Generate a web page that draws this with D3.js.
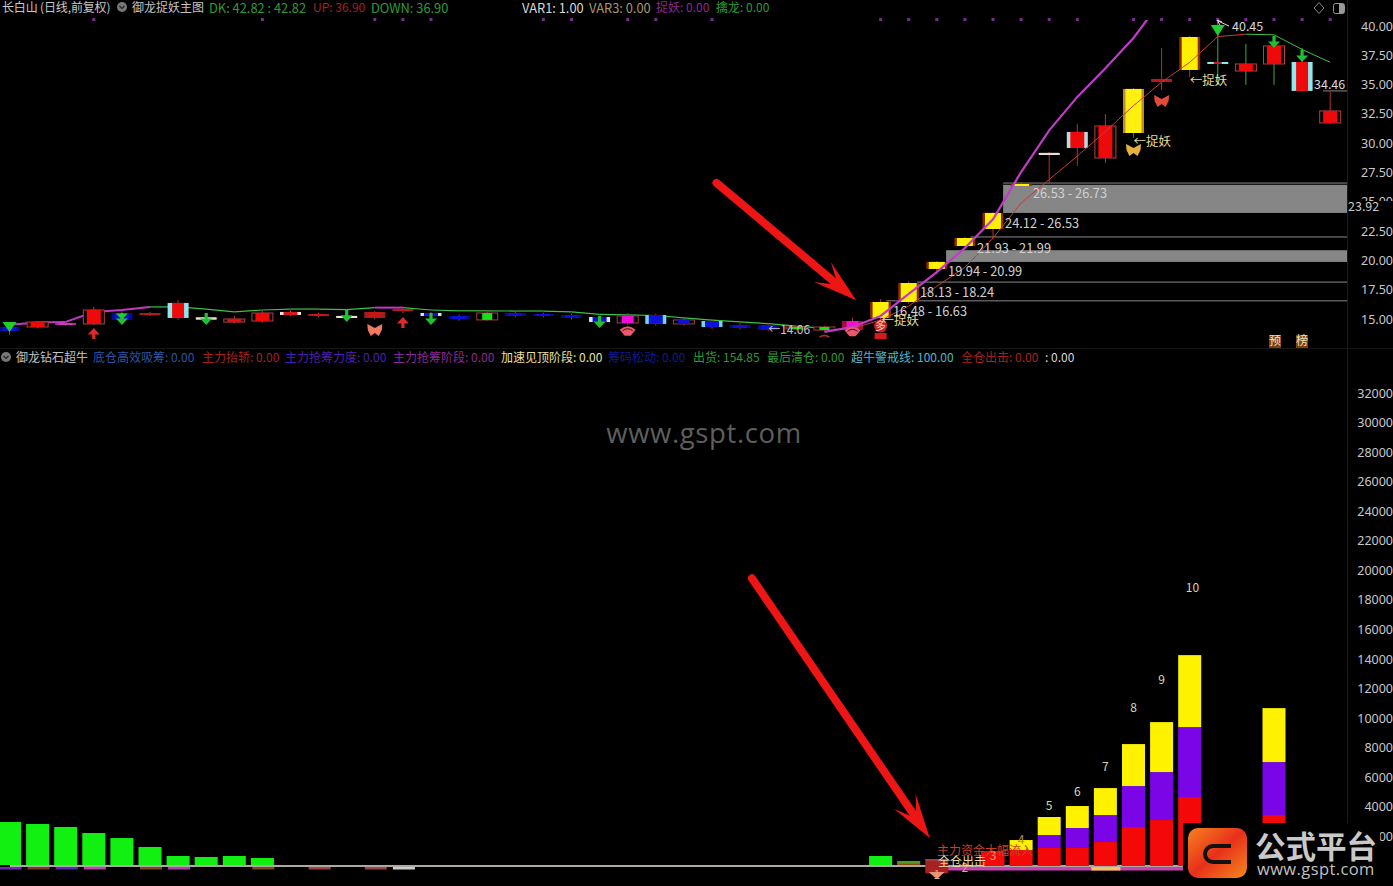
<!DOCTYPE html>
<html><head><meta charset="utf-8">
<script src="https://cdnjs.cloudflare.com/ajax/libs/d3/7.8.5/d3.min.js"></script>
<style>html,body{margin:0;padding:0;background:#000;overflow:hidden}svg{display:block}text{font-family:"Noto Sans CJK SC","Noto Sans",sans-serif}</style>
</head><body><div id="c"></div>
<script>
// ---------- values ----------
const bodyHigh=[14.32,14.74,14.66,15.77,15.51,15.51,16.37,15.13,15.00,15.51,15.60,15.43,15.26,15.60,15.85,15.51,15.26,15.51,15.51,15.43,15.34,15.17,15.26,15.34,14.92,14.83,14.49,14.49,14.32,14.32,14.83,16.45,18.07,19.87,21.91,24.05,26.52,29.17,30.96,31.47,34.63,35.48,39.06,36.93,36.76,38.30,36.93,32.75];
const bodyLow=[13.98,14.32,14.49,14.58,14.92,15.34,15.09,15.05,14.74,14.83,15.34,15.26,15.17,15.09,15.69,15.26,15.00,14.92,15.26,15.26,15.09,14.74,14.66,14.58,14.58,14.32,14.23,14.06,14.15,14.06,14.06,15.09,16.45,19.27,21.23,22.68,26.39,29.08,29.59,28.74,30.87,35.22,36.25,36.76,36.16,36.76,34.46,31.73];
const wickHigh=[14.66,14.80,14.72,16.03,15.70,15.60,16.62,15.30,15.26,15.70,15.75,15.55,15.40,15.70,16.05,15.60,15.40,15.75,15.70,15.55,15.45,15.30,15.50,15.45,15.05,15.00,14.65,14.60,14.40,14.40,15.10,16.70,18.20,19.95,22.00,24.10,26.70,29.25,31.64,32.49,34.70,38.12,39.15,40.34,38.47,38.81,38.12,34.37];
const wickLow=[13.64,14.20,14.40,14.49,14.70,15.25,14.92,14.90,14.60,14.70,15.25,15.15,15.05,14.95,15.50,15.10,14.85,14.85,15.15,15.15,14.95,14.60,14.50,14.45,14.45,14.15,14.10,13.95,14.05,13.95,13.95,14.70,16.30,18.80,20.90,21.80,26.30,26.52,28.06,28.31,30.45,34.54,35.65,34.97,34.97,34.97,34.46,31.64];
const candleKind=['b','r','m','r','b','d','rc','w','r','r','rw','d','w','d','d','bw','b','g','b','b','b','bw','mo','bc','bo','bc','b','b','g','g','mr','y','y','y','y','y','y','w','rl','r','yo','d','y','c','r','r','rc','r'];
const mainLine=[14.5,14.7,14.75,15.6,15.77,16.03,16.03,15.85,15.6,15.77,15.85,15.85,15.8,15.97,15.97,15.77,15.7,15.7,15.68,15.68,15.6,15.4,15.35,15.3,15.1,14.9,14.75,14.6,14.4,14.2];
const mainLineKind=['m','m','m','m','m','g','g','g','g','g','g','g','g','m','g','g','g','g','g','g','g','g','g','g','g','g','g','g','g'];
const trendBars=[29,30,31,32,33,34,35,36,37,38,39,40,41];
const trendPrices=[13.9,14.32,15.26,17.14,19.0,21.06,23.5,27.54,31.1,33.95,36.4,38.98,42.2];
const thinBars=[30,31,32,33,34,35,36,37,38,39,40,41,42,43,44,45,46,47];
const thinPrices=[14.2,14.9,16.1,17.8,19.4,21.9,24.9,26.9,28.9,31.0,33.2,35.2,36.9,39.1,39.3,39.25,38.0,36.9];
const hLinePrices=[26.6,22.0,18.15,16.55];
const hLineStartBars=[35.36,34.2,32.3,31.2];
const bandHigh=[26.45,20.87];
const bandLow=[24.05,19.87];
const bandStartBars=[35.36,33.33];
const rangeLabels=['26.53 - 26.73','24.12 - 26.53','21.93 - 21.99','19.94 - 20.99','18.13 - 18.24','16.48 - 16.63'];
const rangeLabelPrices=[25.7,23.2,21.05,19.05,17.3,15.65];
const rangeLabelBars=[36.42,35.43,34.43,33.4,32.4,31.44];
const dotBars=[3,9,13,14,15,19,20,22,23,25,31,32,33,34,35,36,37,38,40,41,42,43,44,45,46,47];
const downArrowBars=[4,7,12,15,21,45,46];
const downArrowTips=[14.49,14.49,14.75,14.49,14.23,38.12,36.93];
const upArrowBars=[3,14];
const upArrowTips=[14.24,15.17];
const butterflyBars=[13,41,40];
const butterflyPrices=[14.06,33.6,29.42];
const crownBars=[22,30];
const crownPrices=[14.0,13.95];
const priceTicks=[15,17.5,20,22.5,25,27.5,30,32.5,35,37.5,40];
const volumeTicks=d3.range(2000,32001,2000);
const greenBars=[0,1,2,3,4,5,6,7,8,9,31,32];
const greenValues=[2975,2840,2640,2230,1890,1285,676,608,676,540,676,340];
const stackBars=[35,36,37,38,39,40,41,42,45];
const redValues=[1014,1080,1217,1217,1622,2636,3110,4665,3448];
const purpleValues=[0,0,880,1352,1825,2772,3245,4733,3583];
const yellowValues=[0,676,1217,1487,1825,2840,3380,4868,3650];
const countLabels=['1','2','3','4','5','6','7','8','9','10'];
const countBars=[33,34,35,36,37,38,39,40,41,42.1];
const countValues=[-620,-140,680,1750,4050,5000,6700,10700,12600,18800];
const baseSegBars=[0,1,2,3,5,6,9,11,13,14];
const baseSegColors=['#6a2ab8','#7a3a20','#5a2ab0','#c040b0','#7a4a20','#b040b0','#7a4a20','#a04040','#a04040','#cccccc'];
const topHeader=[['DK: 42.82 : 42.82','g'],['UP: 36.90','r'],['DOWN: 36.90','g'],['VAR1: 1.00','w'],['VAR3: 0.00','t'],['捉妖: 0.00','p'],['擒龙: 0.00','g']];
const lowHeader=[['底仓高效吸筹: 0.00','b'],['主力抬轿: 0.00','r'],['主力抢筹力度: 0.00','v'],['主力抢筹阶段: 0.00','p'],['加速见顶阶段: 0.00','y'],['筹码松动: 0.00','n'],['出货: 154.85','g'],['最后清仓: 0.00','g'],['超牛警戒线: 100.00','c'],['全仓出击: 0.00','r'],[': 0.00','w']];

// ---------- layout and styles ----------
const W=1393,H=886,axisX=1347;
const topHeaderX=[209,313,371,522,589,656,716];
const lowHeaderX=[93,202,285,393,501,608,693,767,851,961,1045];
const hdrCol={g:'#2f9a35',r:'#a52020',w:'#d8d8d8',t:'#a89868',p:'#8a2a98',b:'#2c55a8',v:'#4d1fb0',y:'#e8e0a0',n:'#101a90',c:'#50b8c8'};
const x=d3.scaleLinear().domain([0,47]).range([9.5,1330.2]);
const yP=d3.scaleLinear().domain([15,40]).range([319,26]);
const yV=d3.scaleLinear().domain([0,32000]).range([866,393]);
const svg=d3.select('#c').append('svg').attr('width',W).attr('height',H).style('background','#000');
const defs=svg.append('defs');
defs.append('clipPath').attr('id','upperClip').append('rect').attr('x',0).attr('y',20).attr('width',axisX).attr('height',325);
const lg=defs.append('linearGradient').attr('id','logo').attr('x1',0).attr('x2',1).attr('y1',0).attr('y2',1);
lg.append('stop').attr('offset','0%').attr('stop-color','#f5831f');
lg.append('stop').attr('offset','50%').attr('stop-color','#e8301a');
lg.append('stop').attr('offset','100%').attr('stop-color','#f58a1c');

function txt(g,t,px,py,c,fs,anchor){return g.append('text').attr('x',px).attr('y',py).attr('dy','0.36em').attr('fill',c).attr('font-size',fs||12).attr('text-anchor',anchor||'start').text(t);}

// pane frame
svg.append('line').attr('x1',axisX+.5).attr('x2',axisX+.5).attr('y1',0).attr('y2',H).attr('stroke','#1c1c1c');
svg.append('line').attr('x1',0).attr('x2',W).attr('y1',348.5).attr('y2',348.5).attr('stroke','#161616');

// header
txt(svg,'长白山 (日线,前复权)',2,8,'#c8c8c8').attr('letter-spacing',-.15);
function icon(cx,cy){svg.append('circle').attr('cx',cx).attr('cy',cy).attr('r',5).attr('fill','#777');
 svg.append('path').attr('d',d3.line()([[cx-2.5,cy-1],[cx,cy+1.5],[cx+2.5,cy-1]])).attr('fill','none').attr('stroke','#222').attr('stroke-width',1.2);}
icon(122,7);icon(6,357);
txt(svg,'御龙捉妖主图',132,8,'#c4c4c4');
txt(svg,'御龙钻石超牛',16,358,'#c4c4c4');
topHeader.forEach((d,i)=>txt(svg,d[0],topHeaderX[i],8,hdrCol[d[1]],/^[\x00-\x7f]+$/.test(d[0])&&d[1]!=='r'?12.85:12));
lowHeader.forEach((d,i)=>txt(svg,d[0],lowHeaderX[i],358,hdrCol[d[1]]));
svg.append('path').attr('d','M1319,2.5 L1324,8 L1319,13.5 L1314,8Z').attr('fill','none').attr('stroke','#888');
svg.append('rect').attr('x',1333.5).attr('y',3.5).attr('width',11).attr('height',10).attr('rx',2).attr('fill','none').attr('stroke','#999');
svg.append('rect').attr('x',1339).attr('y',4).attr('width',5).attr('height',9).attr('fill','#999');

// watermark
txt(svg,'www.gspt.com',704,433,'#5e5e5e',27.5,'middle').style('font-family','"Open Sans"').attr('letter-spacing',.6);

// axes, right-aligned at the window edge
const axP=d3.axisRight(yP).tickValues(priceTicks).tickFormat(d3.format('.2f')).tickSize(0).tickPadding(0);
svg.append('g').attr('transform','translate(1393,0)').call(axP).call(g=>g.select('.domain').remove())
 .selectAll('text').attr('text-anchor','end').attr('fill','#c8c8c8').attr('font-size',12.5).style('font-family','"Noto Sans"');
const axV=d3.axisRight(yV).tickValues(volumeTicks).tickFormat(d3.format('d')).tickSize(0).tickPadding(0);
svg.append('g').attr('transform','translate(1393,0)').call(axV).call(g=>g.select('.domain').remove())
 .selectAll('text').attr('text-anchor','end').attr('fill','#c8c8c8').attr('font-size',12.5).style('font-family','"Noto Sans"');

// upper pane
const upper=svg.append('g').attr('clip-path','url(#upperClip)');
// purple dots
svg.append('g').selectAll('rect').data(dotBars).join('rect').attr('x',d=>x(d)-1.5).attr('y',18).attr('width',3).attr('height',3).attr('fill','#7a2a90');
// bands & lines
upper.selectAll('.band').data(bandHigh).join('rect').attr('class','band').attr('x',(d,i)=>x(bandStartBars[i])).attr('width',(d,i)=>axisX-x(bandStartBars[i])).attr('y',d=>yP(d)).attr('height',(d,i)=>yP(bandLow[i])-yP(d)).attr('fill','#868686');
upper.selectAll('.hl').data(hLinePrices).join('line').attr('class','hl').attr('x1',(d,i)=>x(hLineStartBars[i])).attr('x2',axisX).attr('y1',d=>yP(d)).attr('y2',d=>yP(d)).attr('stroke','#8a8a8a');
upper.append('line').attr('x1',x(46.75)).attr('x2',axisX).attr('y1',yP(34.46)).attr('y2',yP(34.46)).attr('stroke','#8a8a8a');

// main line segments
mainLineKind.forEach((k,i)=>{
 upper.append('path').attr('d',d3.line().x(d=>x(d)).y(d=>yP(mainLine[d]))([i,i+1])).attr('fill','none')
  .attr('stroke',k==='m'?'#c238c8':'#3ec04a').attr('stroke-width',k==='m'?2:1.2);
});
// candles
const kinds={
 r:{out:'#b84040',side:null,fill:'#ee0a0a',w:14},
 rc:{out:null,side:'#8fe8ee',fill:'#ee0a0a',w:12},
 rl:{out:null,side:'#b8dce4',fill:'#ee0a0a',w:14},
 rw:{out:null,side:'#e8e8e8',fill:'#d81818',w:14},
 d:{out:null,side:'#a02020',fill:'#c01818',w:14},
 b:{out:null,side:'#0a0a90',fill:'#0c10d8',w:14},
 bw:{out:null,side:'#d8e8f0',fill:'#0c10d8',w:14},
 bc:{out:null,side:'#70d8e8',fill:'#0c10d8',w:14},
 bo:{out:'#a04040',side:null,fill:'#0c10d8',w:12},
 g:{out:'#a04040',side:null,fill:'#18e018',w:10},
 m:{out:null,side:'#a82c98',fill:'#c83cb8',w:14},
 mo:{out:'#a04040',side:null,fill:'#ee10d8',w:12},
 mr:{out:null,side:'#a01030',fill:'#f010d0',w:12},
 y:{out:null,side:'#8a2a08',fill:'#fff000',w:16},
 yo:{out:null,side:'#c08a30',fill:'#fff010',w:16},
 w:{out:null,side:'#e8e0d0',fill:'#e8e0d0',w:20},
 c:{out:null,side:'#90e8f0',fill:'#b02828',w:8}
};
const bars=upper.selectAll('.k').data(d3.range(bodyHigh.length)).join('g').attr('class','k');
bars.append('line').attr('x1',d=>x(d)).attr('x2',d=>x(d)).attr('y1',d=>yP(wickHigh[d])).attr('y2',d=>yP(wickLow[d]))
 .attr('stroke',d=>d>=43&&d<=46?'#3ea848':'#b83030');
bars.append('rect').attr('x',d=>x(d)-10.5).attr('width',21).attr('y',d=>yP(bodyHigh[d])).attr('height',d=>Math.max(2,yP(bodyLow[d])-yP(bodyHigh[d])))
 .attr('fill',d=>kinds[candleKind[d]].side||'#000').attr('stroke',d=>kinds[candleKind[d]].out||'none');
bars.append('rect').attr('x',d=>x(d)-kinds[candleKind[d]].w/2).attr('width',d=>kinds[candleKind[d]].w).attr('y',d=>yP(bodyHigh[d])).attr('height',d=>Math.max(2,yP(bodyLow[d])-yP(bodyHigh[d])))
 .attr('fill',d=>kinds[candleKind[d]].fill);
// thin trend, thick trend over candles
const lineI=d3.line().x(d=>x(d[0])).y(d=>yP(d[1]));
const thinPts=thinBars.map((b,i)=>[b,thinPrices[i]]);
upper.append('path').attr('d',lineI(thinPts.slice(0,15))).attr('fill','none').attr('stroke','#c83a3a').attr('stroke-width',1);
upper.append('path').attr('d',lineI(thinPts.slice(14))).attr('fill','none').attr('stroke','#3ec04a').attr('stroke-width',1);
upper.append('path').attr('d',lineI(trendBars.map((b,i)=>[b,trendPrices[i]]))).attr('fill','none').attr('stroke','#c03cc8').attr('stroke-width',2.2);

// arrows
function arrowPath(px,py,dir,hw,len){return `M${px},${py} L${px-hw},${py-dir*hw*1.1} L${px-1.6},${py-dir*hw*1.1} L${px-1.6},${py-dir*len} L${px+1.6},${py-dir*len} L${px+1.6},${py-dir*hw*1.1} L${px+hw},${py-dir*hw*1.1}Z`;}
svg.append('g').selectAll('path').data(downArrowBars).join('path').attr('d',(d,i)=>arrowPath(x(d),yP(downArrowTips[i]),1,6,12)).attr('fill','#22c030');
svg.append('g').selectAll('path').data(upArrowBars).join('path').attr('d',(d,i)=>arrowPath(x(d),yP(upArrowTips[i]),-1,6,11)).attr('fill','#e02a2a');
// green triangles (peak + first bar)
[[43,39.15,7,11],[0,13.9,7,10],[4,14.95,6,6]].forEach(t=>{const px=x(t[0]),py=yP(t[1]);
 svg.append('path').attr('d',`M${px},${py} L${px-t[2]},${py-t[3]} L${px+t[2]},${py-t[3]}Z`).attr('fill','#1fd02a');});
// butterflies
const bfCol=['#f07a60','#e04a3a','#e8b040'];
svg.append('g').selectAll('path').data(butterflyBars).join('path').attr('fill',(d,i)=>bfCol[i])
 .attr('d',(d,i)=>{const a=x(d),b=yP(butterflyPrices[i]);return `M${a},${b-2} L${a-7.5},${b-6} L${a-7},${b} L${a-4},${b+6} L${a},${b+3} L${a+4},${b+6} L${a+7},${b} L${a+7.5},${b-6} Z`;});
// pink caps
crownBars.forEach((b,i)=>{const a=x(b),c=yP(crownPrices[i]);
 svg.append('path').attr('d',`M${a-8},${c-1} Q${a},${c-8} ${a+8},${c-1} L${a+3},${c+5} L${a-3},${c+5}Z`).attr('fill','#e85a6a');
 svg.append('path').attr('d',`M${a-5},${c} Q${a},${c-4} ${a+5},${c}`).attr('fill','none').attr('stroke','#401018');});
svg.append('path').attr('d',`M${x(29)-5},${yP(13.45)} Q${x(29)},${yP(13.75)} ${x(29)+5},${yP(13.45)}`).attr('fill','none').attr('stroke','#b03020').attr('stroke-width',1.5);
// 多 badge
{const a=x(31),b=yP(14.4);
 svg.append('rect').attr('x',a-6).attr('y',b+7).attr('width',12).attr('height',6).attr('fill','#d81818');
 svg.append('circle').attr('cx',a).attr('cy',b).attr('r',6.5).attr('fill','#c82020');
 txt(svg,'多',a,b,'#f0d0c0',11,'middle');}

// labels
rangeLabels.forEach((t,i)=>txt(svg,t,x(rangeLabelBars[i]),yP(rangeLabelPrices[i]),'#d0d0d0',12.8));
txt(svg,'←捉妖',x(31)+1,320,'#e8dc98',12.5);
txt(svg,'←捉妖',x(40),141,'#e8dc98',12.5);
txt(svg,'←捉妖',x(42),80,'#e8dc98',12.5);
txt(svg,'←14.06',x(27),330,'#c8c8c8',12);
txt(svg,'40.45',1232,26,'#d8d8d8',12.5);
svg.append('path').attr('d','M1217,20 L1222,22 M1217,20 L1220,25 M1218,21 L1229,26').attr('stroke','#ddd').attr('fill','none');
txt(svg,'34.46',1314,84,'#d8d8d8',12.5);
svg.append('rect').attr('x',1348).attr('y',201).attr('width',45).attr('height',12).attr('fill','#000');
txt(svg,'23.92',1348,206,'#c8c8c8',12.5);
[['预',1275],['榜',1302]].forEach(d=>{svg.append('rect').attr('x',d[1]-6).attr('y',335).attr('width',12).attr('height',13).attr('fill','#7a4010');txt(svg,d[0],d[1],341,'#f0e0c0',12,'middle');});

// lower pane: baseline
svg.append('line').attr('x1',10).attr('x2',1183).attr('y1',yV(0)).attr('y2',yV(0)).attr('stroke','#e8e0d8').attr('stroke-width',1.4);
svg.append('g').selectAll('rect').data(baseSegBars).join('rect').attr('x',d=>x(d)-10).attr('width',22).attr('y',yV(0)+1).attr('height',2.5).attr('fill',(d,i)=>baseSegColors[i]);
svg.append('rect').attr('x',x(33)-11).attr('width',x(42)-x(33)+20).attr('y',yV(0)+1).attr('height',3.5).attr('fill','#c840b0');
svg.append('rect').attr('x',x(39)-14).attr('width',29).attr('y',yV(0)+1).attr('height',3.5).attr('fill','#f0c060');
// green bars
const bw=23;
svg.append('g').selectAll('rect').data(greenBars).join('rect').attr('x',d=>x(d)-bw/2).attr('width',bw).attr('y',(d,i)=>yV(greenValues[i])).attr('height',(d,i)=>yV(0)-yV(greenValues[i])-1)
 .attr('fill',d=>d===32?'#4c9c20':'#12f012');
svg.append('rect').attr('x',x(32)-bw/2).attr('width',bw).attr('y',yV(150)).attr('height',yV(0)-yV(150)-1).attr('fill','#8a4a10');
svg.append('rect').attr('x',x(33)-bw/2).attr('width',bw).attr('y',yV(400)).attr('height',yV(-500)-yV(400)).attr('fill','#a82020');
svg.append('rect').attr('x',x(33)-bw/2).attr('width',bw).attr('y',yV(450)).attr('height',1).attr('fill','#b08080');
svg.append('path').attr('d',`M${x(33)-8},${yV(-400)} L${x(33)+8},${yV(-400)} L${x(33)},${yV(-900)}Z`).attr('fill','#e89070');
// stacked bars
const stack=svg.append('g');
stackBars.forEach((b,i)=>{
 let acc=0;
 [[redValues[i],'#f50808'],[purpleValues[i],'#7a06e8'],[yellowValues[i],'#fff200']].forEach(s=>{
  if(!s[0])return;
  stack.append('rect').attr('x',x(b)-bw/2).attr('width',bw).attr('y',yV(acc+s[0])).attr('height',yV(acc)-yV(acc+s[0])).attr('fill',s[1]);
  acc+=s[0];
 });
});
countLabels.forEach((t,i)=>txt(svg,t,x(countBars[i]),yV(countValues[i]),i<4?(i==3?'#a89840':'#e8a070'):'#d8d8b0',12,'middle'));
txt(svg,'主力资金大幅流入',937,851,'#c8402a',12);
txt(svg,'全仓出击',938,862,'#eadcb0',12);

// big red arrows, given in chart units
const arrowBars=[[25.16,30.13],[26.42,32.75]];
const arrowPrices=[[26.61,16.6]];
const arrowVolumes=[[19470,1893]];
function bigArrow(x0,y0,x1,y1){
 const L=Math.hypot(x1-x0,y1-y0),ux=(x1-x0)/L,uy=(y1-y0)/L,nx=-uy,ny=ux;
 const P=(a,n)=>[x1-ux*a+nx*n,y1-uy*a+ny*n];
 svg.append('line').attr('x1',x0).attr('y1',y0).attr('x2',x1-ux*30).attr('y2',y1-uy*30).attr('stroke','#ee1515').attr('stroke-width',8).attr('stroke-linecap','round');
 svg.append('path').attr('d','M'+[P(0,0),P(44,13),P(30,4),P(30,-4),P(44,-13)].join('L')+'Z').attr('fill','#ee1515');
}
bigArrow(x(arrowBars[0][0]),yP(arrowPrices[0][0]),x(arrowBars[0][1]),yP(arrowPrices[0][1]));
bigArrow(x(arrowBars[1][0]),yV(arrowVolumes[0][0]),x(arrowBars[1][1]),yV(arrowVolumes[0][1]));

// logo overlay
const lgG=svg.append('g');
lgG.append('rect').attr('x',1183).attr('y',823).attr('width',197).attr('height',63).attr('fill','#000');
lgG.append('rect').attr('x',1188).attr('y',828).attr('width',59).attr('height',50).attr('rx',10).attr('fill','url(#logo)');
lgG.append('path').attr('d','M1231,846 H1213 a7,7 0 0 0 0,16 H1231').attr('fill','none').attr('stroke','#111').attr('stroke-width',4);
txt(lgG,'公式平台',1255,847,'#c9c9c9',30.5).attr('font-weight',700);
txt(lgG,'www.gspt.com',1257,869,'#c0c0c0',16.5).style('font-family','"Open Sans"').attr('letter-spacing',.4);
</script></body></html>
